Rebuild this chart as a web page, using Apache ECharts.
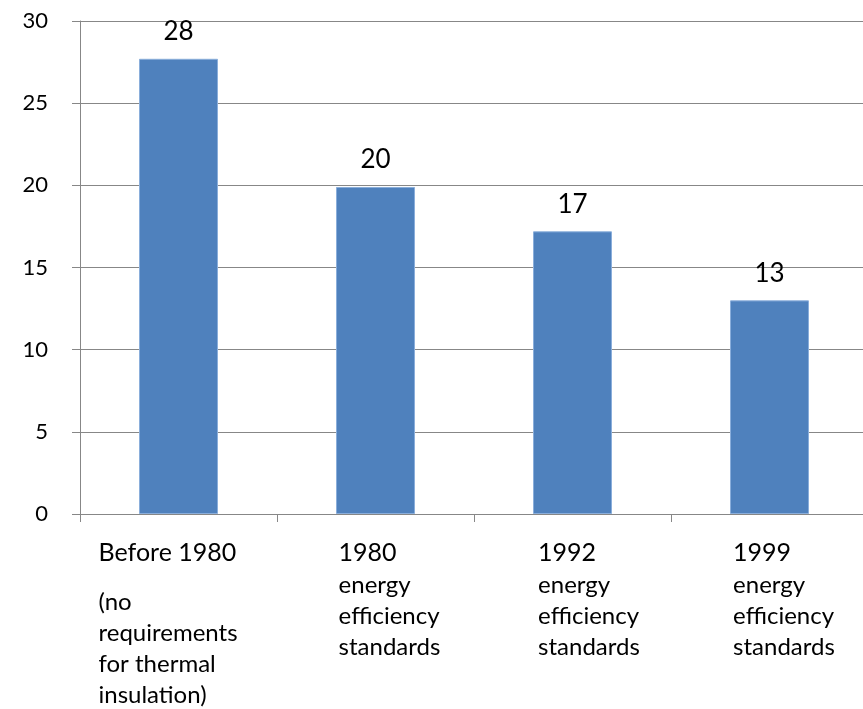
<!DOCTYPE html>
<html>
<head>
<meta charset="utf-8">
<script src="https://cdn.jsdelivr.net/npm/echarts@6/dist/echarts.min.js"></script>
<style>html,body{margin:0;padding:0;background:#fff;}#chart{width:863px;height:709px;}</style>
</head>
<body>
<div id="chart"></div>
<script>
const categories = [
  '{a|Before 1980}\n{gap|}\n{b|(no}\n{b|requirements}\n{b|for thermal}\n{b|insulation)}',
  '{a|1980}\n{b|energy}\n{b|efficiency}\n{b|standards}',
  '{a|1992}\n{b|energy}\n{b|efficiency}\n{b|standards}',
  '{a|1999}\n{b|energy}\n{b|efficiency}\n{b|standards}'
];
const values = [27.7, 19.9, 17.2, 13.0];
const yTicks = { min: 0, max: 30, interval: 5 };

const labelPads = [[0, 21, 0, 0], [0, 0, 0, 28], [0, 0, 0, 33], [0, 0, 0, 29]];
const FONT = 'Lato';

const chart = echarts.init(document.getElementById('chart'), null, { renderer: 'canvas' });
chart.setOption({
  animation: false,
  grid: { left: 80, top: 21, width: 788, height: 493, containLabel: false, outerBoundsMode: 'none' },
  xAxis: {
    type: 'category',
    data: categories.map((c, i) => ({ value: c, textStyle: { padding: labelPads[i] } })),
    axisLine: { lineStyle: { color: '#878787', width: 1 } },
    axisTick: { show: true, length: 8, interval: 0, alignWithLabel: false, lineStyle: { color: '#878787' } },
    axisLabel: {
      interval: 0,
      margin: 22,
      align: 'center',
      verticalAlign: 'top',
      color: '#000',
      fontFamily: FONT,
      rich: {
        a: { fontSize: 25, lineHeight: 34, align: 'left', color: '#000', fontFamily: FONT },
        b: { fontSize: 24, lineHeight: 31, align: 'left', color: '#000', fontFamily: FONT },
        gap: { fontSize: 10, lineHeight: 17, align: 'left' }
      }
    }
  },
  yAxis: {
    type: 'value',
    min: yTicks.min,
    max: yTicks.max,
    interval: yTicks.interval,
    axisLine: { show: true, lineStyle: { color: '#878787', width: 1 } },
    axisTick: { show: true, length: 8, lineStyle: { color: '#878787' } },
    splitLine: { show: true, lineStyle: { color: '#878787', width: 1 } },
    axisLabel: { margin: 32, color: '#000', fontSize: 22, fontFamily: FONT }
  },
  series: [{
    type: 'bar',
    data: values,
    barWidth: 79,
    itemStyle: { color: '#4F81BD', borderColor: '#8AAEDB', borderWidth: 1 },
    label: {
      show: true,
      position: 'top',
      distance: 14,
      color: '#000',
      fontSize: 26,
      fontFamily: FONT,
      formatter: p => Math.round(p.value)
    }
  }]
});
</script>
</body>
</html>
